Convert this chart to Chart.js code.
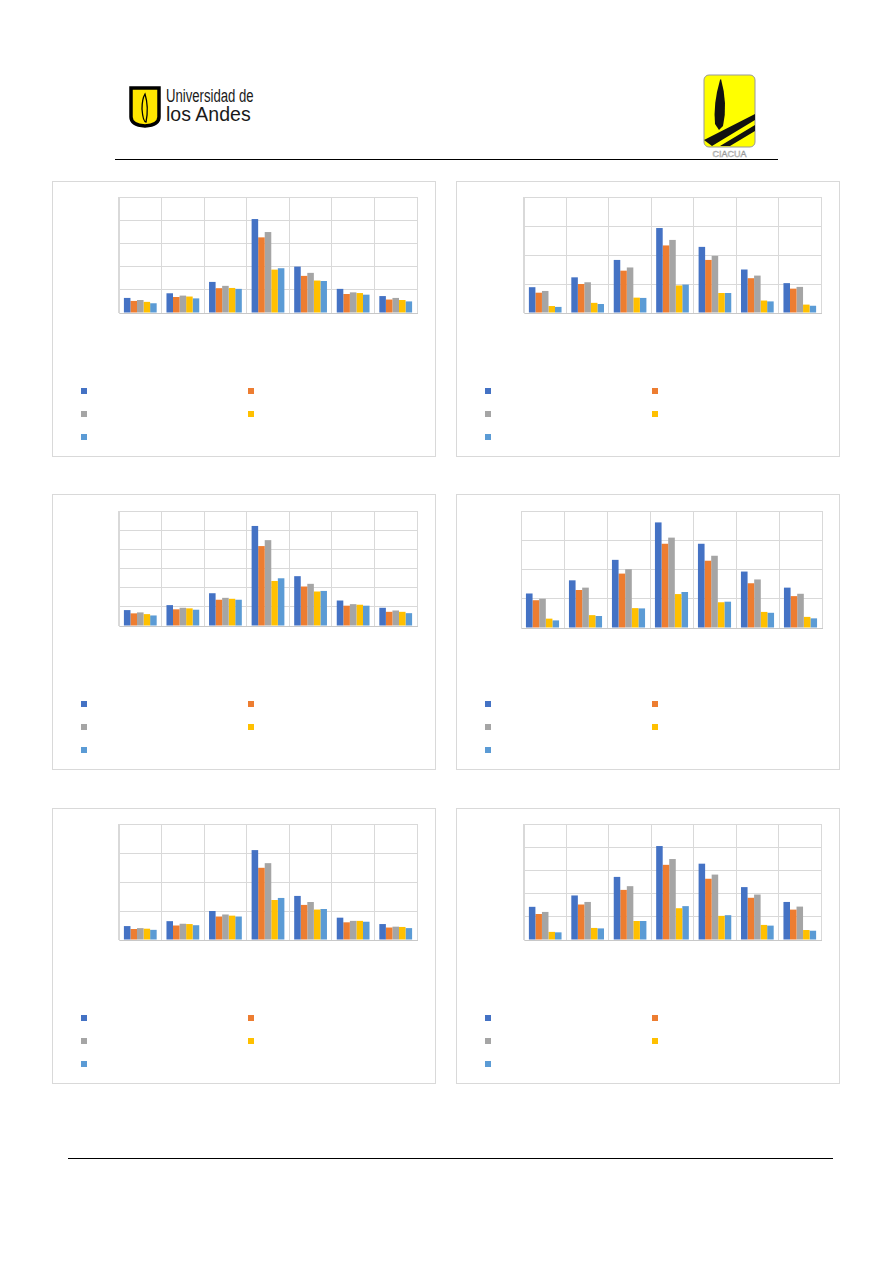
<!DOCTYPE html>
<html>
<head>
<meta charset="utf-8">
<script src="https://cdn.jsdelivr.net/npm/chart.js@4"></script>
<style>
  body { margin: 0; background: #fff; font-family: "Liberation Sans", Arial, sans-serif; }
  .page { position: relative; width: 893px; height: 1263px; }
  .box { position: absolute; border: 1px solid #D9D9D9; box-sizing: border-box; width: 384px; height: 276px; }
  .plot { position: absolute; }
  .lg { position: absolute; width: 6px; height: 6px; }
  .rule { position: absolute; height: 1px; background: #000; }
  .uni { position: absolute; white-space: nowrap; color: #1a1a1a; transform-origin: left top; }
</style>
</head>
<body>
<div class="page" id="page">
  <!-- header logos -->
  <svg style="position:absolute;left:127px;top:85px" width="38" height="44">
    <path d="M4 3 H32 V32 Q32 40 18 41 Q4 40 4 32 Z" fill="#FFE600" stroke="#000" stroke-width="3.5"/>
    <path d="M18 9 Q22 22 19 37 Q16 37 15 24 Q15 14 18 9 Z" fill="none" stroke="#000" stroke-width="1.3"/>
  </svg>
  <div class="uni" style="left:166px;top:88px;font-size:18px;line-height:16px;transform:scaleX(0.73);">Universidad de</div>
  <div class="uni" style="left:166px;top:105px;font-size:21px;line-height:18px;transform:scaleX(0.93);">los Andes</div>
  <svg style="position:absolute;left:702px;top:74px" width="56" height="86">
    <rect x="2" y="1" width="51" height="72" rx="5" fill="#FFFF00" stroke="#999" stroke-width="1"/>
    <path d="M18 6 Q11 30 13 50 L17 56 L21 52 Q26 30 19 5 Z" fill="#111"/>
    <path d="M2 66 L53 40 L53 46 L10 72 Z M18 72 L53 51 L53 57 L28 72 Z" fill="#111"/>
    <text x="27.5" y="83" font-size="9" text-anchor="middle" fill="#fff" stroke="#999" stroke-width="0.5" font-family="Liberation Sans Narrow, sans-serif">CIACUA</text>
  </svg>
  <div class="rule" style="left:115px;top:159px;width:663px;"></div>
  <div class="rule" style="left:68px;top:1158px;width:765px;"></div>
</div>
<script>
// categories (no labels are shown in the picture)
const categories = ['1', '2', '3', '4', '5', '6', '7'];
const seriesNames = ['Serie 1', 'Serie 2', 'Serie 3', 'Serie 4', 'Serie 5'];
const seriesColors = ['#4472C4', '#ED7D31', '#A5A5A5', '#FFC000', '#5B9BD5'];

// values per chart, one row per series
const chart1 = [
  [0.65, 0.85, 1.34, 4.05, 2.00, 1.04, 0.73],
  [0.52, 0.69, 1.07, 3.26, 1.60, 0.82, 0.58],
  [0.56, 0.75, 1.17, 3.49, 1.73, 0.89, 0.65],
  [0.48, 0.71, 1.08, 1.87, 1.40, 0.86, 0.56],
  [0.42, 0.63, 1.04, 1.93, 1.38, 0.79, 0.50]
];
const chart2 = [
  [0.89, 1.23, 1.83, 2.93, 2.28, 1.50, 1.03],
  [0.70, 1.00, 1.46, 2.33, 1.83, 1.20, 0.84],
  [0.76, 1.06, 1.57, 2.52, 1.97, 1.29, 0.90],
  [0.24, 0.35, 0.53, 0.95, 0.69, 0.43, 0.29],
  [0.21, 0.31, 0.52, 0.98, 0.69, 0.40, 0.25]
];
const chart3 = [
  [0.83, 1.09, 1.71, 5.22, 2.60, 1.33, 0.95],
  [0.66, 0.87, 1.37, 4.17, 2.06, 1.06, 0.74],
  [0.71, 0.95, 1.47, 4.48, 2.20, 1.14, 0.81],
  [0.62, 0.92, 1.42, 2.35, 1.80, 1.11, 0.74],
  [0.55, 0.85, 1.37, 2.49, 1.83, 1.06, 0.67]
];
const chart4 = [
  [1.18, 1.63, 2.33, 3.61, 2.88, 1.93, 1.38],
  [0.95, 1.30, 1.86, 2.88, 2.30, 1.53, 1.09],
  [1.00, 1.38, 2.01, 3.09, 2.47, 1.66, 1.17],
  [0.32, 0.44, 0.68, 1.16, 0.88, 0.55, 0.38],
  [0.26, 0.41, 0.67, 1.23, 0.90, 0.52, 0.33]
];
const chart5 = [
  [0.48, 0.65, 1.00, 3.10, 1.52, 0.77, 0.55],
  [0.38, 0.50, 0.81, 2.49, 1.21, 0.61, 0.43],
  [0.41, 0.56, 0.88, 2.65, 1.31, 0.66, 0.46],
  [0.39, 0.55, 0.84, 1.38, 1.05, 0.66, 0.45],
  [0.35, 0.51, 0.81, 1.45, 1.07, 0.63, 0.41]
];
const chart6 = [
  [1.43, 1.92, 2.72, 4.05, 3.29, 2.28, 1.64],
  [1.12, 1.53, 2.16, 3.24, 2.64, 1.82, 1.31],
  [1.21, 1.64, 2.32, 3.49, 2.82, 1.96, 1.44],
  [0.35, 0.52, 0.82, 1.37, 1.04, 0.65, 0.43],
  [0.33, 0.50, 0.82, 1.46, 1.07, 0.62, 0.40]
];
const axisMax = [5, 4, 6, 4, 4, 5];

// layout: box position and plot area (page pixels)
const panels = [
  { data: chart1, box: [52, 181], plot: [119, 197, 298, 116] },
  { data: chart2, box: [456, 181], plot: [524, 197, 297, 116] },
  { data: chart3, box: [52, 494], plot: [119, 511, 298, 115] },
  { data: chart4, box: [456, 494], plot: [521, 511, 301, 117] },
  { data: chart5, box: [52, 808], plot: [119, 824, 298, 116] },
  { data: chart6, box: [456, 808], plot: [524, 824, 297, 116] }
];

const page = document.getElementById('page');
const pad = 3;

panels.forEach((p, i) => {
  let box = document.createElement('div');
  box.className = 'box';
  box.style.left = p.box[0] + 'px';
  box.style.top = p.box[1] + 'px';
  page.appendChild(box);

  // legend markers (2 columns, 3 rows)
  seriesColors.forEach((c, k) => {
    let m = document.createElement('div');
    m.className = 'lg';
    m.style.background = c;
    m.style.left = (p.box[0] + 29 + (k % 2) * 167) + 'px';
    m.style.top = (p.box[1] + 207 + Math.floor(k / 2) * 23) + 'px';
    page.appendChild(m);
  });

  let wrap = document.createElement('div');
  wrap.className = 'plot';
  wrap.style.left = (p.plot[0] - pad) + 'px';
  wrap.style.top = (p.plot[1] - pad) + 'px';
  wrap.style.width = (p.plot[2] + 2 * pad) + 'px';
  wrap.style.height = (p.plot[3] + 2 * pad) + 'px';
  let cv = document.createElement('canvas');
  wrap.appendChild(cv);
  page.appendChild(wrap);

  new Chart(cv.getContext('2d'), {
    type: 'bar',
    data: {
      labels: categories,
      datasets: p.data.map((vals, k) => ({
        label: seriesNames[k],
        data: vals,
        backgroundColor: seriesColors[k],
        borderWidth: 0,
        barPercentage: 1,
        categoryPercentage: 0.77
      }))
    },
    options: {
      responsive: true,
      maintainAspectRatio: false,
      animation: false,
      layout: { padding: pad },
      plugins: { legend: { display: false }, tooltip: { enabled: false } },
      scales: {
        x: {
          ticks: { display: false },
          grid: { color: '#D9D9D9', drawTicks: false, offset: true },
          border: { color: '#C8C8C8' }
        },
        y: {
          min: 0,
          max: axisMax[i],
          ticks: { display: false, stepSize: 1 },
          grid: { color: '#D9D9D9', drawTicks: false },
          border: { color: '#D9D9D9' }
        }
      }
    }
  });
});
</script>
</body>
</html>
